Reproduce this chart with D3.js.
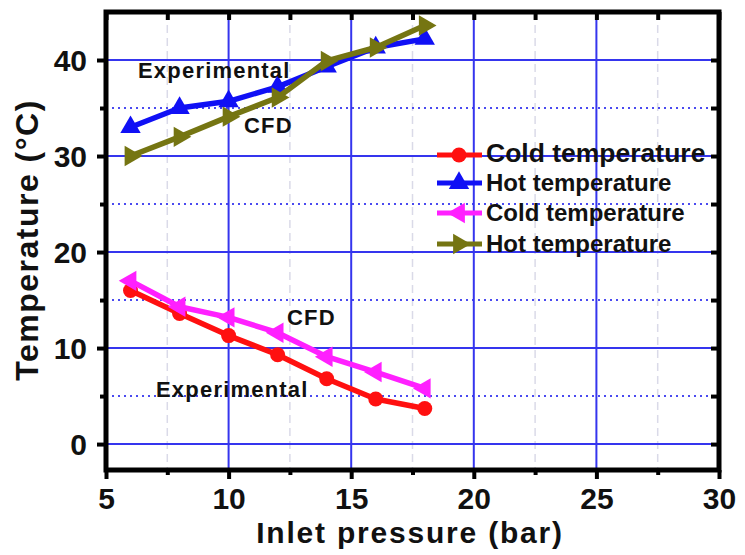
<!DOCTYPE html>
<html>
<head>
<meta charset="utf-8">
<script src="https://cdn.jsdelivr.net/npm/d3@7"></script>
<style>
  body { margin: 0; background: #fff; }
  text { font-family: "Liberation Sans", Arial, sans-serif; font-weight: bold; fill: #111; }
</style>
</head>
<body>
<div id="chart"></div>
<script>
// data
var pressure = [6, 8, 10, 12, 14, 16, 18];
var coldExp = [16.0, 13.6, 11.3, 9.3, 6.8, 4.7, 3.7];
var hotExp  = [33.0, 35.0, 35.7, 37.2, 39.3, 41.3, 42.2];
var coldCfd = [17.0, 14.3, 13.2, 11.6, 9.1, 7.5, 5.8];
var hotCfd  = [30.0, 32.0, 34.1, 36.1, 39.9, 41.3, 43.6];

var seriesNames = ["Cold temperature", "Hot temperature", "Cold temperature", "Hot temperature"];
var xTicks = [5, 10, 15, 20, 25, 30];
var yTicks = [0, 10, 20, 30, 40];
var xMinor = [7.5, 12.5, 17.5, 22.5, 27.5];
var yMinor = [5, 15, 25, 35];

var W = 745, H = 555;
var margin = {top: 12, right: 26, bottom: 85, left: 106},
    width = W - margin.left - margin.right,
    height = H - margin.top - margin.bottom;

var svg = d3.select("#chart")
  .append("svg")
    .attr("width", W)
    .attr("height", H)
  .append("g")
    .attr("transform", "translate(" + margin.left + "," + margin.top + ")");

var x = d3.scaleLinear().domain([5, 30]).range([0, width]);
var y = d3.scaleLinear().domain([-2.7, 45]).range([height, 0]);

// faint dashed minor verticals
svg.selectAll(".xminor").data(xMinor).enter().append("line")
  .attr("x1", d => x(d)).attr("x2", d => x(d))
  .attr("y1", 0).attr("y2", height)
  .attr("stroke", "#dadae8").attr("stroke-width", 1.5)
  .attr("stroke-dasharray", "8,5");

// dotted minor horizontals
svg.selectAll(".yminor").data(yMinor).enter().append("line")
  .attr("x1", 0).attr("x2", width)
  .attr("y1", d => y(d)).attr("y2", d => y(d))
  .attr("stroke", "#4a4af0").attr("stroke-width", 2)
  .attr("stroke-dasharray", "2,4");

// major grid
svg.selectAll(".xgrid").data(xTicks.slice(1, -1)).enter().append("line")
  .attr("x1", d => x(d)).attr("x2", d => x(d))
  .attr("y1", 0).attr("y2", height)
  .attr("stroke", "#3535ee").attr("stroke-width", 2);
svg.selectAll(".ygrid").data(yTicks).enter().append("line")
  .attr("x1", 0).attr("x2", width)
  .attr("y1", d => y(d)).attr("y2", d => y(d))
  .attr("stroke", "#3535ee").attr("stroke-width", 2);

// axes
function styleAxis(g) {
  g.select(".domain").remove();
  g.selectAll("line").attr("stroke", "#000").attr("stroke-width", 4);
  g.selectAll("text").style("font-size", "30px").attr("fill", "#111");
}

svg.append("g")
  .attr("transform", "translate(0," + height + ")")
  .call(d3.axisBottom(x).tickValues(xTicks).tickSize(9).tickPadding(9).tickFormat(d3.format("d")))
  .call(styleAxis)
  .selectAll("text").attr("dy", "0.71em");
svg.append("g")
  .attr("transform", "translate(0," + height + ")")
  .call(d3.axisBottom(x).tickValues(xMinor).tickSize(5).tickFormat(""))
  .call(styleAxis);

svg.append("g")
  .call(d3.axisLeft(y).tickValues(yTicks).tickSize(9).tickPadding(10))
  .call(styleAxis)
  .selectAll("text").attr("dy", "0.36em");
svg.append("g")
  .call(d3.axisLeft(y).tickValues(yMinor).tickSize(6).tickFormat(""))
  .call(styleAxis);

svg.append("g")
  .call(d3.axisTop(x).tickValues(xTicks.concat(xMinor)).tickSize(-8).tickFormat(""))
  .call(styleAxis);
svg.append("g")
  .attr("transform", "translate(" + width + ",0)")
  .call(d3.axisRight(y).tickValues(yTicks.concat(yMinor)).tickSize(-8).tickFormat(""))
  .call(styleAxis);

// frame
svg.append("rect")
  .attr("x", 0).attr("y", 0)
  .attr("width", width).attr("height", height)
  .attr("fill", "none").attr("stroke", "#000").attr("stroke-width", 5);

// series
var series = [
  {vals: coldExp, color: "#ff1010", marker: "circle"},
  {vals: hotExp,  color: "#1010f5", marker: "up"},
  {vals: coldCfd, color: "#ff20ff", marker: "left"},
  {vals: hotCfd,  color: "#757512", marker: "right"}
];

function marker(sel, type, color) {
  if (type == "circle") {
    sel.append("circle").attr("r", 7.5).attr("fill", color);
  } else {
    var rot = type == "up" ? 0 : (type == "left" ? -90 : 90);
    sel.append("path")
      .attr("d", d3.symbol().type(d3.symbolTriangle).size(180)())
      .attr("transform", "rotate(" + rot + ")")
      .attr("fill", color);
  }
}

var line = d3.line().x(d => x(d[0])).y(d => y(d[1]));

series.forEach(function(s) {
  var pts = pressure.map((p, i) => [p, s.vals[i]]);
  svg.append("path")
    .attr("d", line(pts))
    .attr("fill", "none")
    .attr("stroke", s.color)
    .attr("stroke-width", 5.5)
    .attr("stroke-linejoin", "round");
  svg.selectAll(null).data(pts).enter().append("g")
    .attr("transform", d => "translate(" + x(d[0]) + "," + y(d[1]) + ")")
    .each(function() { marker(d3.select(this), s.marker, s.color); });
});

// annotations
var notes = [
  {t: "Experimental", x: 138, y: 78},
  {t: "CFD", x: 244, y: 133},
  {t: "CFD", x: 287, y: 325},
  {t: "Experimental", x: 156, y: 397}
];
svg.selectAll(".note").data(notes).enter().append("text")
  .attr("x", d => d.x - margin.left)
  .attr("y", d => d.y - margin.top)
  .style("font-size", "22px")
  .style("letter-spacing", "1.2px")
  .text(d => d.t);

// legend
var legRows = [143, 171, 201, 232];
var legSizes = [26.5, 24, 24, 24];
var leg = svg.append("g");
series.forEach(function(s, i) {
  var ly = legRows[i];
  var g = leg.append("g").attr("transform", "translate(0," + ly + ")");
  g.append("line")
    .attr("x1", 437 - margin.left).attr("x2", 482 - margin.left)
    .attr("stroke", s.color).attr("stroke-width", 5);
  var m = g.append("g").attr("transform", "translate(" + (459 - margin.left) + ",0)");
  marker(m, s.marker, s.color);
  g.append("text")
    .attr("x", 486 - margin.left)
    .attr("y", i == 0 ? 7 : 8)
    .style("font-size", legSizes[i] + "px")
    .text(seriesNames[i]);
});

// axis titles
svg.append("text")
  .attr("x", 410 - margin.left)
  .attr("y", 543 - margin.top)
  .attr("text-anchor", "middle")
  .style("font-size", "30px")
  .style("letter-spacing", "1.8px")
  .text("Inlet pressure (bar)");

svg.append("text")
  .attr("transform", "translate(" + (38 - margin.left) + "," + (240 - margin.top) + ") rotate(-90)")
  .attr("text-anchor", "middle")
  .style("font-size", "32px")
  .style("letter-spacing", "1.5px")
  .text("Temperature (°C)");
</script>
</body>
</html>
